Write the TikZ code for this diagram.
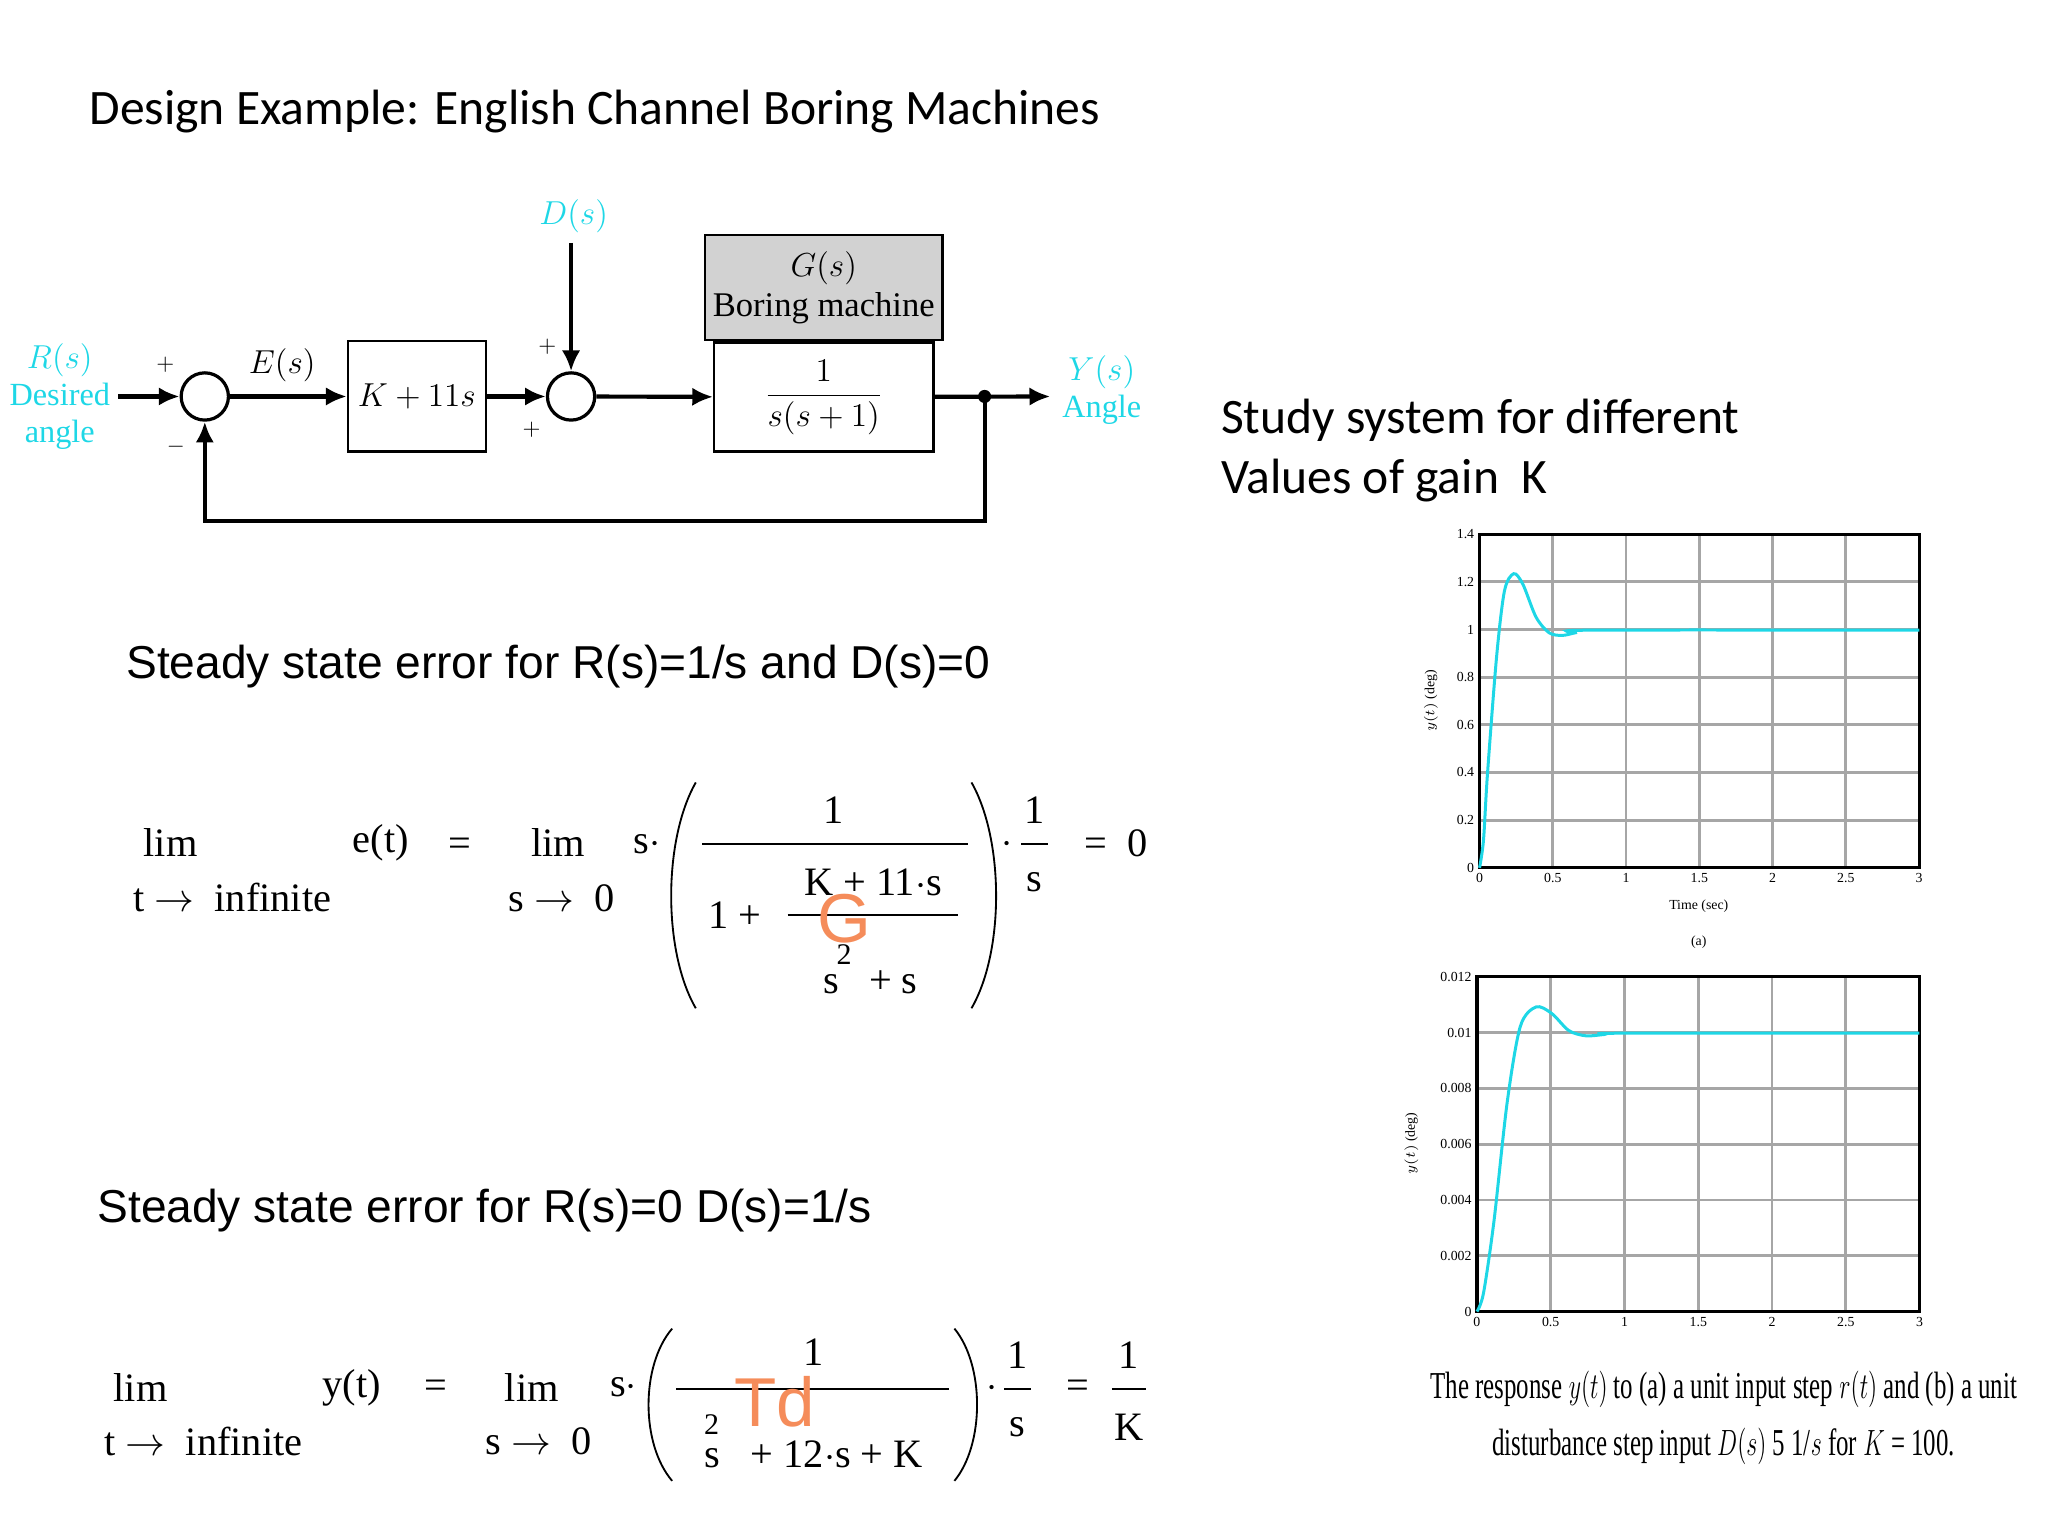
\documentclass[tikz,border=0pt]{standalone}
\usepackage{amsmath,amssymb}
\usepackage{xcolor}
\usepackage{fontspec}
\setmainfont{Liberation Serif}
\newfontfamily\calib{Carlito}
\newfontfamily\arial{Liberation Sans}
\usetikzlibrary{shapes.geometric, arrows, arrows.meta, positioning}
\definecolor{labcyan}{RGB}{30,215,230}
\definecolor{orangeG}{RGB}{245,140,90}

\begin{document}
\begin{tikzpicture}[x=0.02cm, y=-0.02cm, >=latex]
    % Define the styles
    \tikzstyle{block} = [rectangle, draw, line width=1pt, minimum width=105*0.02cm, minimum height=84*0.02cm, font=\fontsize{15}{17}\selectfont]
    \tikzstyle{sum} = [circle, draw, line width=1.4pt, minimum size=36*0.02cm, inner sep=0pt]
    \tikzstyle{line} = [draw, -{Latex[length=9pt,width=8pt]}, line width=1.8pt]
    \tikzstyle{cyanlab} = [text=labcyan, font=\fontsize{14}{16}\selectfont]
    \tikzstyle{heading} = [anchor=west, font=\calib\fontsize{21.5}{26}\selectfont]
    \tikzstyle{eq} = [font=\fontsize{17.5}{20}\selectfont, inner sep=0pt]
    \tikzstyle{grid} = [draw, gray!70, line width=1.2pt]
    \tikzstyle{curve} = [draw, labcyan, line width=1.3pt]
    \tikzstyle{tick} = [font=\fontsize{6}{7}\selectfont, inner sep=1pt]
    \useasboundingbox (0,0) rectangle (1560,1170);

    % Title
    \node [heading] (title) at (62,85) {Design Example: English Channel Boring Machines};

    % Block diagram
    \node [sum] (sumE) at (156,302) {};
    \node [block] (ctrl) at (317.5,302) {$K+11s$};
    \node [sum] (sumD) at (435,302) {};
    \node [block, minimum width=167*0.02cm, minimum height=83*0.02cm] (plant) at (627.5,302.5) {$\dfrac{1}{s(s+1)}$};
    \node [block, fill=gray!35, minimum width=168*0.02cm, minimum height=80*0.02cm, above=0pt of plant, align=center] (gname) {$G(s)$\\Boring machine};
    \coordinate (branch) at (750,302);
    \coordinate (out) at (800,302);
    \coordinate (inR) at (90,302);
    \coordinate (inD) at (435,185);
    \coordinate (fb) at (750,397);
    \coordinate (fbE) at (156,397);
    \fill (branch) circle (5);

    \node [cyanlab, align=center, anchor=east] (rlab) at (inR) {$R(s)$\\Desired\\angle};
    \node [cyanlab] (dlab) at (437,165) {$D(s)$};
    \node [cyanlab, align=center, anchor=west] (ylab) at (803,297) {$Y(s)$\\Angle};
    \node [font=\fontsize{14}{16}\selectfont] (elab) at (215,278) {$E(s)$};
    \node (p1) at (126,278) {$+$};
    \node (m1) at (134,340) {$-$};
    \node (p2) at (417,264) {$+$};
    \node (p3) at (405,327) {$+$};

    \path [line] (inR) -- (sumE);
    \path [line] (sumE) -- (ctrl);
    \path [line] (ctrl) -- (sumD);
    \path [line] (inD) -- (sumD);
    \path [line] (sumD) -- (plant);
    \path [line] (plant) -- (out);
    \path [line] (branch) -- (fb) -- (fbE) -- (sumE);

    % Right text
    \node [heading, align=left, anchor=north west] (study) at (924,298) {Study system for different\\Values of gain\ \ K};

    % Steady state 1
    \node [heading, font=\arial\fontsize{20}{24}\selectfont] (ss1) at (90,508) {Steady state error for R(s)=1/s and D(s)=0};
    \node [eq] (lim1) at (130,642) {lim};
    \node [eq] (t1) at (177,684) {t $\rightarrow$\ \ infinite};
    \node [eq] (e1) at (290,642) {e(t)};
    \node [eq] (eq1) at (350,645) {=};
    \node [eq] (lim2) at (425,642) {lim};
    \node [eq] (s1) at (428,684) {s $\rightarrow$\ \ 0};
    \node [eq] (sd1) at (493,643) {s$\cdot$};
    \draw [thick] (530,596) .. controls (505,640) and (505,725) .. (530,768);
    \draw [thick] (740,596) .. controls (765,640) and (765,725) .. (740,768);
    \node [eq] (n1) at (635,617) {1};
    \draw [thick] (535,643) -- (737,643);
    \node [eq] (onep) at (560,697) {1 +};
    \node [eq] (kn) at (665,672) {K + 11$\cdot$s};
    \draw [thick] (600,697) -- (730,697);
    \node [eq] (kd) at (663,748) {s\ \ \ + s};
    \node [eq, font=\fontsize{13}{15}\selectfont] (sq1) at (643,727) {2};
    \node [text=orangeG, font=\arial\fontsize{30}{32}\selectfont] (G) at (643,700) {G};
    \node [eq] (dot1) at (767,643) {$\cdot$};
    \node [eq] (on1) at (788,617) {1};
    \draw [thick] (778,643) -- (798,643);
    \node [eq] (os1) at (788,672) {s};
    \node [eq] (res1) at (850,642) {=\ \ 0};

    % Steady state 2
    \node [heading, font=\arial\fontsize{20}{24}\selectfont] (ss2) at (68,922) {Steady state error for R(s)=0 D(s)=1/s};
    \node [eq] (lim3) at (107,1057) {lim};
    \node [eq] (t2) at (155,1098) {t $\rightarrow$\ \ infinite};
    \node [eq] (y1) at (268,1057) {y(t)};
    \node [eq] (eq2) at (332,1058) {=};
    \node [eq] (lim4) at (405,1057) {lim};
    \node [eq] (s2) at (410,1098) {s $\rightarrow$\ \ 0};
    \node [eq] (sd2) at (475,1057) {s$\cdot$};
    \draw [thick] (512,1012) .. controls (488,1040) and (488,1100) .. (512,1128);
    \draw [thick] (727,1012) .. controls (750,1040) and (750,1100) .. (727,1128);
    \node [eq] (n2) at (620,1030) {1};
    \draw [thick] (515,1058) -- (723,1058);
    \node [eq] (d2) at (620,1108) {s\ \ \ + 12$\cdot$s + K};
    \node [eq, font=\fontsize{13}{15}\selectfont] (sq2) at (542,1085) {2};
    \node [text=orangeG, font=\arial\fontsize{30}{32}\selectfont] (Td) at (590,1068) {Td};
    \node [eq] (dot2) at (756,1058) {$\cdot$};
    \node [eq] (on2) at (775,1032) {1};
    \draw [thick] (765,1058) -- (785,1058);
    \node [eq] (os2) at (775,1087) {s};
    \node [eq] (eq3) at (821,1058) {=};
    \node [eq] (on3) at (860,1032) {1};
    \draw [thick] (847,1058) -- (873,1058);
    \node [eq] (ok3) at (860,1087) {K};

    % Plot (a)
    \foreach \i in {1,...,5} \draw [grid] (1127+\i*55.8,407) -- (1127+\i*55.8,661);
    \foreach \j in {1,...,6} \draw [grid] (1127,661-\j*36.3) -- (1462,661-\j*36.3);
    \draw [line width=1.4pt] (1127,407) rectangle (1462,661);
    \foreach \v/\l in {0/0,1/0.2,2/0.4,3/0.6,4/0.8,5/1,6/1.2,7/1.4}
        \node [tick, anchor=east] at (1125,661-\v*36.3) {\l};
    \foreach \i/\l in {0/0,1/0.5,2/1,3/1.5,4/2,5/2.5,6/3}
        \node [tick, anchor=north] at (1127+\i*55.8,663) {\l};
    \node [tick, rotate=90] (ya) at (1090,534) {$y(t)$ (deg)};
    \node [tick] (xa) at (1294,690) {Time (sec)};
    \node [tick] (la) at (1294,718) {(a)};
    \draw [curve] plot [smooth] coordinates {(1127,661) (1130,640) (1133,590) (1140,500) (1146,450) (1153,437) (1160,445) (1170,470) (1180,482) (1190,484) (1200,482) (1212,480) (1462,480)};

    % Plot (b)
    \foreach \i in {1,...,5} \draw [grid] (1125+\i*56.2,744) -- (1125+\i*56.2,999);
    \foreach \j in {1,...,5} \draw [grid] (1125,999-\j*42.5) -- (1462,999-\j*42.5);
    \draw [line width=1.4pt] (1125,744) rectangle (1462,999);
    \foreach \v/\l in {0/0,1/0.002,2/0.004,3/0.006,4/0.008,5/0.01,6/0.012}
        \node [tick, anchor=east] at (1123,999-\v*42.5) {\l};
    \foreach \i/\l in {0/0,1/0.5,2/1,3/1.5,4/2,5/2.5,6/3}
        \node [tick, anchor=north] at (1125+\i*56.2,1001) {\l};
    \node [tick, rotate=90] (yb) at (1075,871) {$y(t)$ (deg)};
    \draw [curve] plot [smooth] coordinates {(1125,999) (1130,985) (1138,930) (1148,840) (1158,782) (1170,767) (1182,772) (1195,785) (1208,789) (1222,788) (1236,787) (1462,787)};

    % Caption
    \node [align=center, font=\fontsize{15}{25}\selectfont] (cap) at (1313,1080)
        {\scalebox{0.72}[1.1]{The response $y(t)$ to (a) a unit input step $r(t)$ and (b) a unit}\\
         \scalebox{0.72}[1.1]{disturbance step input $D(s)$ 5 1/$s$ for $K$ = 100.}};
\end{tikzpicture}
\end{document}
